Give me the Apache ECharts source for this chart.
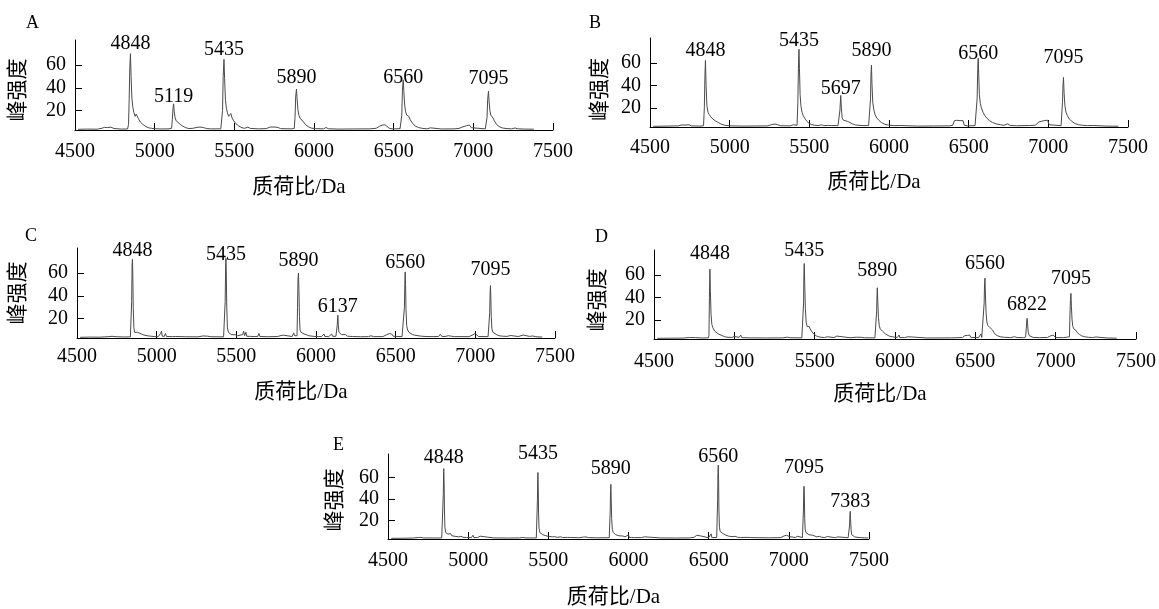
<!DOCTYPE html>
<html><head><meta charset="utf-8">
<script src="https://cdn.jsdelivr.net/npm/echarts@6/dist/echarts.min.js"></script>
<style>html,body{margin:0;padding:0;background:#fff}#c{width:1159px;height:609px}</style>
</head><body><div id="c"></div>
<script>
const xAxisTitle = '质荷比/Da';
const yAxisTitle = '峰强度';
const xMin = 4500, xMax = 7500, xStep = 500;
const yMin = 3, yMax = 82;
const yTickValues = [20, 40, 60];
const panelLetters = ['A', 'B', 'C', 'D', 'E'];

const peaksA = [[4848,70],[5119,26],[5435,65],[5890,39],[6560,47],[7095,37]];
const peaksB = [[4848,62],[5435,72],[5697,31],[5890,58],[6560,64],[7095,47]];
const peaksC = [[4848,72],[5435,73],[5890,60],[6137,23],[6560,61],[7095,49]];
const peaksD = [[4848,65],[5435,70],[5890,48.5],[6560,57],[6822,21.4],[7095,43.5]];
const peaksE = [[4848,68.4],[5435,64.8],[5890,53.8],[6560,71.6],[7095,52],[7383,28.7]];

const spectrumA = [[4520,3.6],[4580,3.8],[4640,3.7],[4670,4.6],[4685,5.3],[4705,5.1],[4725,5.5],[4745,4.3],[4790,3.8],[4830,3.9],
[4836,8],[4840,30],[4844,58],[4848,70],[4852,50],[4857,31],[4863,23],[4870,18],[4878,15],[4884,17],[4890,16.5],[4898,13],[4910,10],[4925,8],[4945,6],[4965,4.8],[4980,4.5],[4990,5],[5000,4.1],[5040,3.9],[5090,4],
[5106,4.5],[5111,12],[5115,22],[5119,26],[5123,19],[5128,14],[5135,11],[5145,9.5],[5160,8],[5175,6.5],[5195,5],[5215,4.3],[5240,4.5],[5265,5.3],[5285,5.6],[5305,5.2],[5325,4.3],[5350,4],[5415,4],
[5421,4.5],[5426,20],[5430,50],[5435,65],[5439,48],[5444,30],[5450,22],[5457,18],[5464,15],[5471,16.5],[5478,17.5],[5486,13.5],[5496,11],[5510,8.5],[5528,6.5],[5548,5],[5565,4.5],[5585,5.5],[5600,4.4],[5650,4],[5700,4.2],[5725,5.6],[5755,5.6],[5775,5.2],[5790,4.2],[5860,4],
[5876,4.5],[5881,14],[5885,32],[5890,39],[5894,30],[5899,21],[5905,16],[5912,13.5],[5918,14.5],[5924,13],[5934,10],[5948,7.5],[5965,5.8],[5985,4.6],[6010,4.2],[6060,4],[6075,5.2],[6090,4.1],[6150,3.8],[6250,3.9],[6350,4],[6390,4.5],[6410,6.2],[6428,7.3],[6445,7.6],[6458,6.2],[6472,4.6],[6490,4],[6540,4.1],
[6546,4.5],[6551,16],[6555,38],[6560,47],[6564,37],[6569,25],[6575,19],[6582,16],[6589,17],[6595,15],[6604,12],[6618,9],[6635,6.5],[6655,5.2],[6680,4.4],[6710,4],[6730,4.9],[6742,4.1],[6800,3.9],[6880,4],[6910,4.4],[6935,5.8],[6958,6.8],[6975,7.4],[6988,5],[7000,4.1],[7075,4],
[7081,4.5],[7086,14],[7090,30],[7095,37],[7099,28],[7104,20],[7110,16],[7117,14.5],[7124,13.5],[7132,11],[7145,8],[7162,6],[7182,4.8],[7205,4.3],[7240,4],[7262,4.8],[7275,4.1],[7320,3.8],[7380,3.7]];

const spectrumB = [[4520,3.6],[4600,3.8],[4680,4],[4695,4.8],[4720,4.7],[4745,5],[4760,4],[4820,3.8],
[4836,4.2],[4841,20],[4845,50],[4848,62],[4852,40],[4857,22],[4864,16],[4872,14],[4882,12],[4895,10],[4910,8.5],[4928,7],[4948,5.5],[4970,4.5],[5000,4],[5080,3.8],[5160,3.9],[5240,4],[5265,5.2],[5285,5.6],[5300,5.1],[5320,4.1],[5380,4],[5400,5],[5410,4],
[5423,4.5],[5428,25],[5432,60],[5435,72],[5438,55],[5442,32],[5447,22],[5454,16],[5462,13],[5472,10.5],[5485,8],[5500,6],[5515,5.2],[5530,4.6],[5560,4.3],[5575,5],[5590,4.2],[5620,4.4],[5630,6],[5640,4.3],[5680,4.2],
[5688,4.5],[5692,18],[5697,31],[5701,20],[5706,11],[5714,9],[5725,8.5],[5740,8],[5755,7],[5770,5.8],[5790,4.8],[5830,4.3],[5872,4.2],
[5879,5],[5884,28],[5887,50],[5890,58],[5893,42],[5898,25],[5905,18],[5913,14],[5923,11],[5936,9],[5952,7],[5972,5.5],[5995,4.7],[6030,4.2],[6070,4.3],[6082,5.6],[6095,4.2],[6180,3.8],[6280,3.9],[6380,4],[6400,4.5],[6410,8.5],[6425,9],[6440,8.7],[6452,9.2],[6465,8.6],[6472,4.6],[6490,4],[6540,4.2],
[6548,5],[6553,28],[6557,55],[6560,64],[6563,50],[6567,32],[6573,24],[6580,20],[6590,16],[6602,13],[6616,10.5],[6632,8.5],[6650,7],[6672,5.8],[6700,5],[6720,4.5],[6745,5.8],[6760,4.4],[6800,4.1],[6880,4.3],[6920,4.6],[6940,7.5],[6960,8.2],[6978,8.8],[6995,9],[7005,5],[7015,4.2],[7080,4.2],
[7085,5],[7089,25],[7092,40],[7095,47],[7099,33],[7104,22],[7111,16],[7120,13],[7132,10],[7148,8],[7168,6],[7190,5],[7215,4.5],[7245,4.2],[7285,4.3],[7295,5.4],[7305,4.2],[7360,3.8],[7440,3.7]];

const spectrumC = [[4520,3.6],[4580,3.8],[4640,3.7],[4700,4.2],[4720,4.5],[4745,4.1],[4800,3.9],[4835,4],
[4840,5],[4843,35],[4846,68],[4848,72],[4850,60],[4853,30],[4857,12],[4862,8],[4870,7.5],[4880,8],[4890,7],[4905,6.5],[4920,5.6],[4940,5],[4960,4.6],[4985,4.3],[5010,4.2],[5025,7],[5030,9],[5035,4.6],[5048,4.4],[5055,7],[5062,4.3],[5100,4.2],[5110,5.8],[5118,4.3],[5180,4.1],[5260,4],[5290,4.8],[5320,4.6],[5340,4.1],[5420,4],
[5427,5],[5430,35],[5433,68],[5435,73],[5437,60],[5440,30],[5444,12],[5450,8],[5458,7],[5468,6],[5480,5.4],[5495,5.8],[5508,5],[5520,4.6],[5540,6],[5546,9],[5552,5],[5560,8],[5566,4.5],[5590,4.4],[5600,5.2],[5612,4.3],[5635,4.4],[5642,7],[5648,4.3],[5700,4.1],[5760,4.3],[5770,6],[5780,5.2],[5795,5.5],[5805,4.2],[5850,4.3],[5860,7.5],[5866,5],[5875,4.5],
[5881,5],[5884,30],[5887,55],[5890,60],[5893,45],[5896,22],[5900,10],[5906,8],[5915,7],[5925,6.5],[5940,5.8],[5955,5],[5975,4.6],[6000,4.3],[6010,6],[6016,4.3],[6035,4.2],[6050,6.5],[6056,4.3],[6080,4.2],[6098,6.5],[6104,4.5],[6125,4.5],
[6130,5.5],[6133,14],[6137,23],[6140,15],[6144,8],[6150,6.5],[6160,6],[6172,5],[6185,6],[6198,4.6],[6230,4.3],[6280,4.1],[6330,4.2],[6345,5],[6360,4.2],[6420,4.2],[6445,6],[6460,6.8],[6475,6.5],[6485,4.5],[6540,4.2],
[6552,5],[6555,30],[6558,55],[6560,61],[6562,50],[6565,28],[6569,14],[6575,10],[6583,8],[6592,7],[6605,6],[6620,5.5],[6640,5],[6660,4.6],[6690,4.3],[6740,4.2],[6770,4.4],[6780,6.2],[6790,4.4],[6810,4.3],[6830,5],[6850,4.6],[6870,4.2],[6960,4.2],[6985,5.8],[6998,7],[7010,6.5],[7020,4.3],[7080,4.2],
[7087,5],[7090,25],[7093,44],[7095,49],[7097,40],[7100,22],[7104,11],[7110,8],[7120,6.5],[7135,5.8],[7150,5],[7170,4.6],[7200,4.4],[7220,5.2],[7232,4.3],[7270,4.3],[7300,5.6],[7310,4.3],[7340,4.4],[7360,4.8],[7380,4.1],[7420,3.8]];

const spectrumD = [[4520,3.6],[4600,3.7],[4680,3.8],[4720,4.3],[4760,4.2],[4800,3.9],[4838,4],
[4842,6],[4845,40],[4848,65],[4851,45],[4855,25],[4860,16],[4866,13],[4872,12],[4878,10],[4884,11],[4890,9],[4900,7.5],[4912,6.5],[4925,6],[4940,5],[4960,4.5],[4985,4.4],[5000,5.2],[5012,4.3],[5030,4.5],[5040,6.5],[5046,4.2],[5100,4],[5200,3.9],[5300,4],[5330,4.6],[5350,4.1],[5420,4],
[5428,5],[5431,35],[5433,60],[5435,70],[5438,52],[5442,30],[5447,18],[5453,14],[5460,13],[5466,14],[5472,12],[5480,10],[5490,8],[5500,6.5],[5512,5.6],[5525,5],[5540,4.5],[5560,4.3],[5580,5],[5592,4.3],[5620,4.2],[5638,5.6],[5650,4.3],[5720,4.1],[5760,4.6],[5790,4.5],[5810,4.1],[5875,4],
[5883,5],[5886,28],[5888,42],[5890,48.5],[5893,36],[5897,22],[5902,15],[5908,12],[5915,11],[5922,10],[5930,9],[5940,7.5],[5952,6.5],[5965,5.5],[5975,6.5],[5985,5],[6000,4.5],[6015,4.4],[6025,6.5],[6030,4.3],[6060,4.2],[6080,5],[6090,4.2],[6200,3.9],[6350,4],[6420,4.3],[6435,6],[6450,6.2],[6465,6.5],[6472,4.4],[6520,4.2],[6535,7.5],[6540,4.4],
[6551,5],[6555,35],[6557,50],[6560,57],[6563,42],[6567,26],[6572,18],[6578,15],[6585,14],[6592,13],[6600,14],[6607,11],[6615,9],[6625,7],[6640,5.8],[6655,5],[6680,4.5],[6720,4.3],[6745,5],[6760,4.3],[6800,4.2],
[6813,4.8],[6817,12],[6820,19],[6822,21.4],[6825,17],[6829,9],[6835,6],[6845,5],[6860,4.4],[6900,4.2],[6950,4.4],[6965,5.6],[6975,5.8],[6985,6.5],[6992,5],[7000,4.3],[7050,4.2],
[7086,5],[7089,25],[7092,38],[7095,43.5],[7098,32],[7102,20],[7107,14],[7113,12],[7120,13],[7127,10.5],[7135,8.5],[7148,7],[7162,5.8],[7180,5],[7205,4.5],[7230,4.3],[7250,4.8],[7262,4.2],[7320,3.9],[7380,3.7]];

const spectrumE = [[4520,3.6],[4600,3.7],[4660,3.9],[4690,4.4],[4705,4.5],[4720,4],[4800,3.9],[4835,4],
[4842,5],[4845,45],[4847,66],[4848,68.4],[4850,55],[4852,30],[4855,14],[4860,9],[4866,8],[4874,7.5],[4882,7],[4890,8],[4898,6],[4908,7],[4918,5.5],[4930,6.5],[4940,5],[4955,5.5],[4968,4.6],[4980,5.8],[4990,4.4],[5020,4.3],[5030,6.5],[5036,4.3],[5060,4.4],[5075,5.6],[5085,4.2],[5160,4],[5250,3.9],[5320,4],[5340,4.4],[5360,4],[5425,4],
[5430,5],[5432,40],[5434,60],[5435,64.8],[5437,52],[5439,28],[5442,13],[5447,9],[5455,8],[5465,7],[5475,6.8],[5485,6],[5492,7.5],[5500,5.5],[5512,6],[5525,5],[5540,5.2],[5555,4.5],[5575,5],[5590,4.4],[5620,4.5],[5632,5.6],[5640,4.4],[5690,4.2],[5720,4.8],[5735,4.9],[5750,4.3],[5800,4.1],[5880,4.2],
[5884,5],[5886,30],[5888,48],[5890,53.8],[5892,42],[5895,22],[5899,12],[5905,9],[5912,8],[5920,7],[5930,6.5],[5940,6],[5952,5.4],[5965,5.8],[5978,5],[5990,4.6],[6000,6.8],[6005,4.5],[6020,4.4],[6030,5.6],[6038,4.3],[6080,4.3],[6100,5],[6110,4.4],[6200,4],[6300,3.9],[6380,4],[6410,4.6],[6425,6.4],[6435,6.8],[6445,6],[6455,4.6],[6500,4.2],[6515,7.8],[6520,4.3],[6550,4.4],
[6554,5],[6556,40],[6558,65],[6560,71.6],[6562,58],[6564,30],[6567,14],[6572,10],[6580,9],[6590,8],[6598,7.5],[6608,6.5],[6618,7],[6628,5.5],[6640,6],[6652,5.2],[6665,5.5],[6680,4.6],[6700,4.4],[6740,4.5],[6752,5.2],[6762,4.3],[6820,4.2],[6880,4.1],[6950,4.3],[6970,5.8],[6985,6.5],[6995,7],[7005,5.2],[7015,4.5],[7040,4.4],[7055,5.5],[7062,4.3],[7085,4.4],
[7089,5],[7091,30],[7093,48],[7095,52],[7097,42],[7099,22],[7102,12],[7107,9],[7115,8],[7125,7],[7135,6],[7148,6.5],[7160,5.2],[7175,5],[7190,5.5],[7205,4.6],[7225,4.4],[7240,5.3],[7250,4.3],[7290,4.2],[7305,5],[7315,4.2],[7370,4.2],
[7377,5],[7379,16],[7381,25],[7383,28.7],[7385,22],[7388,12],[7392,7],[7398,5.5],[7410,5],[7425,4.6],[7445,4.3],[7470,4.1],[7495,4]];

const spectra = [spectrumA, spectrumB, spectrumC, spectrumD, spectrumE];
const peaks = [peaksA, peaksB, peaksC, peaksD, peaksE];

// layout (pixels)
const layouts = [
  {grid:{left:75, top:40, width:478, height:90}, yNameGap:46, yNameShift:10, xNameGap:47, xLabelMargin:12, letterPos:[26,14], labelGaps:[11,8,11,12,3,14]},
  {grid:{left:650, top:38, width:478, height:89}, yNameGap:39, yNameShift:14, xNameGap:45, xLabelMargin:11, letterPos:[589,14], labelGaps:[11,10,8,15,6,21]},
  {grid:{left:77, top:248, width:478, height:90}, yNameGap:48, yNameShift:0, xNameGap:44, xLabelMargin:9, letterPos:[25,227], labelGaps:[10,5,13,9,10,17]},
  {grid:{left:654, top:250, width:482, height:89}, yNameGap:45, yNameShift:11, xNameGap:45, xLabelMargin:13, letterPos:[595,228], labelGaps:[16,14,18,15,15,16]},
  {grid:{left:388, top:454, width:481, height:89}, yNameGap:42, yNameShift:7, xNameGap:48, xLabelMargin:12, letterPos:[333,436], labelGaps:[12,20,17,9,20,11]}
];
const X_NAME_SHIFT = 30;
const FONT = "'Liberation Serif', 'Noto Sans CJK SC', serif";
const LABEL_BASE = 11;

const chart = echarts.init(document.getElementById('c'), null, {renderer:'canvas'});
const grids = [], xAxes = [], yAxes = [], series = [], graphics = [];
layouts.forEach((L, i) => {
  grids.push(Object.assign({containLabel:false}, L.grid));
  xAxes.push({
    gridIndex:i, type:'value', min:xMin, max:xMax, interval:xStep,
    axisLine:{show:true, onZero:false, lineStyle:{color:'#000', width:1}},
    axisTick:{show:true, inside:true, length:7, lineStyle:{color:'#000', width:1}},
    axisLabel:{margin:L.xLabelMargin, fontSize:20, fontFamily:FONT, color:'#000', showMinLabel:true, showMaxLabel:true,
      formatter:(v) => String(v)},
    splitLine:{show:false},
    name:xAxisTitle, nameLocation:'middle', nameGap:L.xNameGap,
    nameTextStyle:{fontSize:21, fontFamily:FONT, color:'#000', padding:[0, X_NAME_SHIFT, 0, 0]}
  });
  yAxes.push({
    gridIndex:i, type:'value', min:yMin, max:yMax,
    axisLine:{show:true, lineStyle:{color:'#000', width:1}},
    axisTick:{show:true, inside:true, length:7, customValues:yTickValues, lineStyle:{color:'#000', width:1}},
    axisLabel:{customValues:yTickValues, margin:9, fontSize:20, fontFamily:FONT, color:'#000', formatter:(v) => String(v)},
    splitLine:{show:false},
    name:yAxisTitle, nameLocation:'middle', nameRotate:90, nameGap:L.yNameGap,
    nameTextStyle:{fontSize:21, fontFamily:FONT, color:'#000', padding:[0, L.yNameShift, 0, 0]}
  });
  series.push({
    type:'line', xAxisIndex:i, yAxisIndex:i, data:spectra[i], showSymbol:false, symbol:'none',
    lineStyle:{color:'#4a4a4a', width:1}, silent:true, animation:false
  });
  series.push({
    type:'scatter', xAxisIndex:i, yAxisIndex:i, symbolSize:0, itemStyle:{color:'#000', opacity:1},
    data:peaks[i].map((p, k) => ({value:p, label:{distance:L.labelGaps[k] - LABEL_BASE}})),
    label:{show:true, position:'top', formatter:(p) => String(p.value[0]), fontSize:20, fontFamily:FONT, color:'#000', opacity:1},
    silent:true, animation:false, z:5
  });
  graphics.push({type:'text', left:L.letterPos[0], top:L.letterPos[1], style:{text:panelLetters[i], fontSize:18, fontFamily:FONT, fill:'#000'}});
});

chart.setOption({
  backgroundColor:'#fff', animation:false,
  grid:grids, xAxis:xAxes, yAxis:yAxes, series:series, graphic:graphics
});
</script></body></html>
